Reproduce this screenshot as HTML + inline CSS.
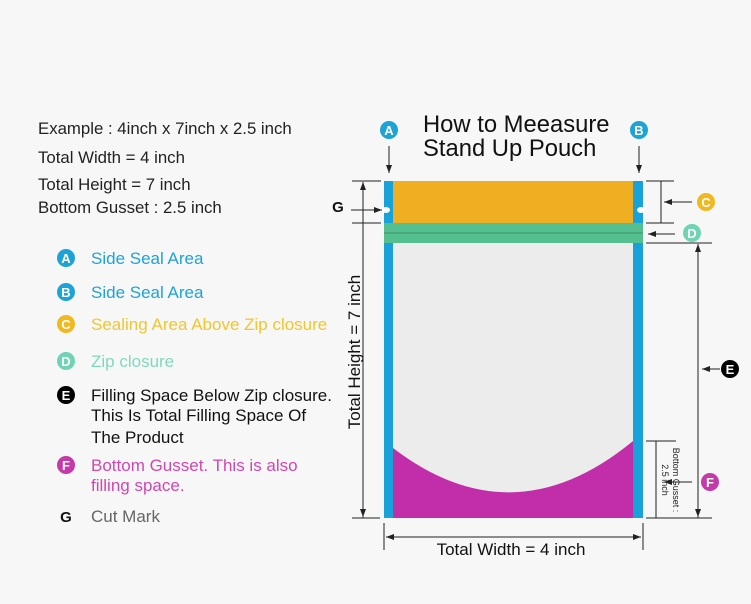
<!DOCTYPE html>
<html><head><meta charset="utf-8"><style>
html,body{margin:0;padding:0;background:#f7f7f7}
svg{display:block;font-family:"Liberation Sans",Arial,sans-serif}
</style></head><body>
<svg width="751" height="604" viewBox="0 0 751 604" xmlns="http://www.w3.org/2000/svg">
<defs>
<marker id="ar" markerWidth="8" markerHeight="6" refX="8" refY="3" orient="auto" markerUnits="userSpaceOnUse"><path d="M0,0 L8,3 L0,6 Z" fill="#222"/></marker>
</defs>
<rect width="751" height="604" fill="#f7f7f7"/>
<g font-size="16.8" fill="#222">
<text x="38" y="134">Example : 4inch x 7inch x 2.5 inch</text>
<text x="38" y="163">Total Width = 4 inch</text>
<text x="38" y="190">Total Height = 7 inch</text>
<text x="38" y="213">Bottom Gusset : 2.5 inch</text>
</g>
<g font-size="17">
<circle cx="66" cy="258" r="9" fill="#1ea3d6"/><text x="66" y="263" font-size="13" font-weight="bold" fill="#fff" text-anchor="middle">A</text>
<text x="91" y="264" fill="#1ea3d6">Side Seal Area</text>
<circle cx="66" cy="292" r="9" fill="#1ea3d6"/><text x="66" y="297" font-size="13" font-weight="bold" fill="#fff" text-anchor="middle">B</text>
<text x="91" y="298" fill="#1ea3d6">Side Seal Area</text>
<circle cx="66" cy="324" r="9" fill="#f2b91f"/><text x="66" y="329" font-size="13" font-weight="bold" fill="#fff" text-anchor="middle">C</text>
<text x="91" y="330" fill="#f2c62a">Sealing Area Above Zip closure</text>
<circle cx="66" cy="361" r="9" fill="#6fd3b4"/><text x="66" y="366" font-size="13" font-weight="bold" fill="#fff" text-anchor="middle">D</text>
<text x="91" y="367" fill="#7fd9bd">Zip closure</text>
<circle cx="66" cy="395" r="9" fill="#000"/><text x="66" y="400" font-size="13" font-weight="bold" fill="#fff" text-anchor="middle">E</text>
<text x="91" y="401" fill="#111">Filling Space Below Zip closure.</text>
<text x="91" y="421" fill="#111">This Is Total Filling Space Of</text>
<text x="91" y="443" fill="#111">The Product</text>
<circle cx="66" cy="465" r="9" fill="#c43aa9"/><text x="66" y="470" font-size="13" font-weight="bold" fill="#fff" text-anchor="middle">F</text>
<text x="91" y="471" fill="#d246b0">Bottom Gusset. This is also</text>
<text x="91" y="491" fill="#d246b0">filling space.</text>
<text x="66" y="522" font-size="15" font-weight="bold" fill="#111" text-anchor="middle">G</text>
<text x="91" y="522" fill="#666">Cut Mark</text>
</g>
<text x="423" y="132" font-size="23.8" fill="#111">How to Meeasure</text>
<text x="423" y="156" font-size="23.8" fill="#111">Stand Up Pouch</text>
<!-- pouch -->
<rect x="384" y="181" width="259" height="337" fill="#ececec"/>
<path d="M393,448 Q513,540 633,441 L633,518 L393,518 Z" fill="#c22ea9"/>
<rect x="393" y="181" width="240" height="42" fill="#f0ae22"/>
<rect x="384" y="223" width="259" height="20" fill="#55c08f"/>
<line x1="384" y1="233" x2="643" y2="233" stroke="#3e8f6c" stroke-width="1"/>
<rect x="384" y="181" width="9" height="42" fill="#18a2d9"/>
<rect x="633" y="181" width="10" height="42" fill="#18a2d9"/>
<rect x="384" y="243" width="9" height="275" fill="#18a2d9"/>
<rect x="633" y="243" width="10" height="275" fill="#18a2d9"/>
<ellipse cx="386" cy="210" rx="4" ry="3" fill="#fff"/>
<ellipse cx="641" cy="210" rx="4" ry="3" fill="#fff"/>
<!-- A B -->
<circle cx="389" cy="130" r="9" fill="#1ea3d6"/><text x="389" y="135" font-size="13" font-weight="bold" fill="#fff" text-anchor="middle">A</text>
<circle cx="639" cy="130" r="9" fill="#1ea3d6"/><text x="639" y="135" font-size="13" font-weight="bold" fill="#fff" text-anchor="middle">B</text>
<g stroke="#222" stroke-width="1" fill="none">
<line x1="389" y1="146" x2="389" y2="173" marker-end="url(#ar)"/>
<line x1="639" y1="146" x2="639" y2="173" marker-end="url(#ar)"/>
<line x1="352" y1="181" x2="381" y2="181"/>
<line x1="352" y1="223" x2="381" y2="223"/>
<line x1="352" y1="518" x2="380" y2="518"/>
<line x1="363" y1="518" x2="363" y2="182" marker-end="url(#ar)"/>
<line x1="363" y1="223" x2="363" y2="517" marker-end="url(#ar)"/>
<line x1="351" y1="210" x2="382" y2="210" marker-end="url(#ar)"/>
<line x1="646" y1="181" x2="674" y2="181"/>
<line x1="646" y1="223" x2="674" y2="223"/>
<line x1="661" y1="181" x2="661" y2="223"/>
<line x1="692" y1="202" x2="664" y2="202" marker-end="url(#ar)"/>
<line x1="675" y1="234" x2="648" y2="234" marker-end="url(#ar)"/>
<line x1="646" y1="243" x2="712" y2="243"/>
<line x1="698" y1="518" x2="698" y2="244" marker-end="url(#ar)"/>
<line x1="698" y1="244" x2="698" y2="517" marker-end="url(#ar)"/>
<line x1="720" y1="369" x2="702" y2="369" marker-end="url(#ar)"/>
<line x1="646" y1="518" x2="712" y2="518"/>
<line x1="646" y1="441" x2="676" y2="441"/>
<line x1="656" y1="441" x2="656" y2="518"/>
<line x1="692" y1="482" x2="664" y2="482" marker-end="url(#ar)"/>
<line x1="384" y1="523" x2="384" y2="550"/>
<line x1="643" y1="523" x2="643" y2="550"/>
<line x1="386" y1="537" x2="641" y2="537" marker-end="url(#ar)"/>
<line x1="641" y1="537" x2="386" y2="537" marker-end="url(#ar)"/>
</g>
<text x="338" y="212" font-size="15" font-weight="bold" fill="#111" text-anchor="middle">G</text>
<text transform="translate(360,352) rotate(-90)" font-size="17" fill="#111" text-anchor="middle">Total Height = 7 inch</text>
<text x="511" y="555" font-size="17" fill="#111" text-anchor="middle">Total Width = 4 inch</text>
<text transform="translate(673,480) rotate(90)" font-size="9" fill="#222" text-anchor="middle">Bottom Gusset :</text>
<text transform="translate(662,480) rotate(90)" font-size="9" fill="#222" text-anchor="middle">2.5 inch</text>
<circle cx="706" cy="202" r="9" fill="#f2b91f"/><text x="706" y="207" font-size="13" font-weight="bold" fill="#fff" text-anchor="middle">C</text>
<circle cx="692" cy="233" r="9" fill="#6fd3b4"/><text x="692" y="238" font-size="13" font-weight="bold" fill="#fff" text-anchor="middle">D</text>
<circle cx="730" cy="369" r="9" fill="#000"/><text x="730" y="374" font-size="13" font-weight="bold" fill="#fff" text-anchor="middle">E</text>
<circle cx="710" cy="482" r="9" fill="#c43aa9"/><text x="710" y="487" font-size="13" font-weight="bold" fill="#fff" text-anchor="middle">F</text>
</svg>
</body></html>
